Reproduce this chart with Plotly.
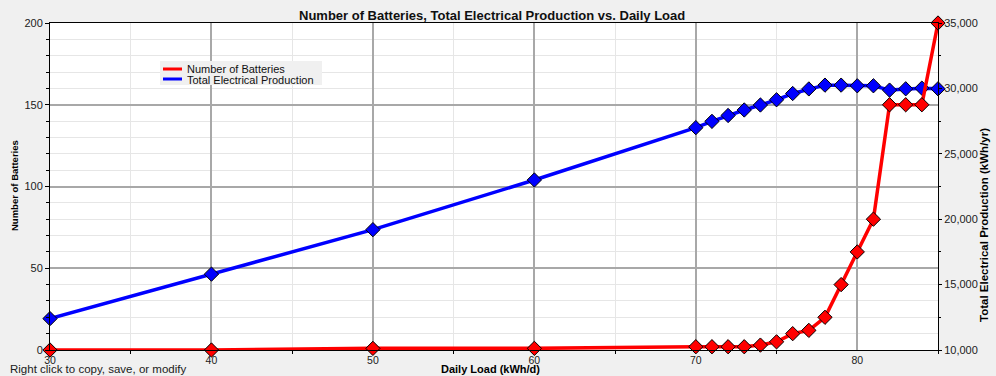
import plotly.graph_objects as go

daily_load = [30, 40, 50, 60, 70, 71, 72, 73, 74, 75, 76, 77, 78, 79, 80, 81, 82, 83, 84, 85]
num_batteries = [0, 0, 1, 1, 2, 2, 2, 2, 3, 5, 10, 12, 20, 40, 60, 80, 150, 150, 150, 200]
total_production = [12400, 15800, 19200, 23000, 27000, 27480, 27930, 28350, 28730, 29130,
                     29610, 29960, 30250, 30250, 30200, 30200, 29870, 29970, 30020, 29970]

title_text = "Number of Batteries, Total Electrical Production vs. Daily Load"
left_title = "Number of Batteries"
right_title = "Total Electrical Production (kWh/yr)"
x_title = "Daily Load (kWh/d)"
note_text = "Right click to copy, save, or modify"
legend_names = ["Number of Batteries", "Total Electrical Production"]

FONT = "Liberation Sans, Arial, sans-serif"
RED = "#ff0000"
BLUE = "#0000ff"

# plot area in pixels: x 50..938, y 23..350
L, R, T, B = 50, 938, 23, 350
W, H = 996, 376


def px(x):
    return (x - L) / (R - L)


def py(y):
    return (B - y) / (B - T)


fig = go.Figure()

# Blue on base (right) axis, red on overlaying (left) axis so red draws on top
fig.add_trace(go.Scatter(
    x=daily_load, y=num_batteries, mode="lines+markers", name=legend_names[0],
    yaxis="y2", showlegend=False, cliponaxis=False,
    line=dict(color=RED, width=3.5),
    marker=dict(symbol="diamond", size=11, color=RED, line=dict(color="#000000", width=1)),
))
fig.add_trace(go.Scatter(
    x=daily_load, y=total_production, mode="lines+markers", name=legend_names[1],
    yaxis="y", showlegend=False, cliponaxis=False,
    line=dict(color=BLUE, width=3.5),
    marker=dict(symbol="diamond", size=11, color=BLUE, line=dict(color="#000000", width=1)),
))

# manual compact legend (box, line swatches, labels)
shapes = [
    dict(type="rect", xref="paper", yref="paper", x0=px(160), x1=px(322), y0=py(85), y1=py(61),
         fillcolor="#f0f0f0", line=dict(width=0), layer="above"),
    dict(type="line", xref="paper", yref="paper", x0=px(163), x1=px(182), y0=py(69), y1=py(69),
         line=dict(color=RED, width=3), layer="above"),
    dict(type="line", xref="paper", yref="paper", x0=px(163), x1=px(182), y0=py(79), y1=py(79),
         line=dict(color=BLUE, width=3), layer="above"),
]

annotations = [
    dict(text="<b>" + title_text + "</b>", xref="paper", yref="paper",
         x=px(492), y=py(15), xanchor="center", yanchor="middle", showarrow=False,
         font=dict(size=13, family=FONT, color="#101010")),
    dict(text="<b>" + left_title + "</b>", xref="paper", yref="paper",
         x=px(14), y=py(186), xanchor="center", yanchor="middle", showarrow=False,
         textangle=-90, font=dict(size=9.5, family=FONT)),
    dict(text="<b>" + right_title + "</b>", xref="paper", yref="paper",
         x=px(984), y=py(225), xanchor="center", yanchor="middle", showarrow=False,
         textangle=-90, font=dict(size=11.5, family=FONT)),
    dict(text="<b>" + x_title + "</b>", xref="paper", yref="paper",
         x=px(490), y=py(376.5), xanchor="center", yanchor="bottom", showarrow=False,
         font=dict(size=11, family=FONT)),
    dict(text=note_text, xref="paper", yref="paper",
         x=px(8), y=py(376.5), xanchor="left", yanchor="bottom", showarrow=False,
         font=dict(size=11.5, family=FONT, color="#202020")),
    dict(text=legend_names[0], xref="paper", yref="paper",
         x=px(185), y=py(69), xanchor="left", yanchor="middle", showarrow=False,
         font=dict(size=11, family=FONT, color="#101010")),
    dict(text=legend_names[1], xref="paper", yref="paper",
         x=px(185), y=py(79.5), xanchor="left", yanchor="middle", showarrow=False,
         font=dict(size=11, family=FONT, color="#101010")),
]

fig.update_layout(
    width=W, height=H,
    margin=dict(l=L, r=W - R, t=T, b=H - B, autoexpand=False),
    paper_bgcolor="#f0f0f0",
    plot_bgcolor="#ffffff",
    font=dict(family=FONT, size=11, color="#000000"),
    showlegend=False,
    xaxis=dict(
        range=[30, 85], dtick=10, tick0=30, automargin=False,
        showgrid=True, gridcolor="#a8a8a8", gridwidth=2,
        minor=dict(dtick=5, showgrid=True, gridcolor="#e6e6e6", gridwidth=1,
                   ticks="outside", ticklen=3, tickcolor="#000000"),
        ticks="", showline=True, linecolor="#000000", linewidth=1, mirror=True,
        zeroline=False, tickfont=dict(size=10.5, color="#202020"),
    ),
    yaxis=dict(
        side="right", range=[10000, 35000], dtick=5000, tickformat=",", automargin=False,
        showgrid=False, zeroline=False,
        showline=True, linecolor="#000000", linewidth=1,
        ticks="outside", ticklen=3, tickcolor="#000000",
        minor=dict(dtick=2500, ticks="outside", ticklen=2, tickcolor="#000000", showgrid=False),
        tickfont=dict(size=11, color="#202020"),
    ),
    yaxis2=dict(
        side="left", overlaying="y", range=[0, 200], dtick=50, automargin=False,
        showgrid=True, gridcolor="#a8a8a8", gridwidth=2,
        minor=dict(dtick=10, showgrid=True, gridcolor="#e6e6e6", gridwidth=1,
                   ticks="outside", ticklen=3, tickcolor="#000000"),
        zeroline=False,
        showline=True, linecolor="#000000", linewidth=1,
        ticks="outside", ticklen=4, tickcolor="#000000",
        tickfont=dict(size=11, color="#202020"),
    ),
    shapes=shapes,
    annotations=annotations,
)

fig.write_html("out.html", config={"displayModeBar": False},
               post_script="document.body.style.margin='0';document.body.style.overflow='hidden';")
